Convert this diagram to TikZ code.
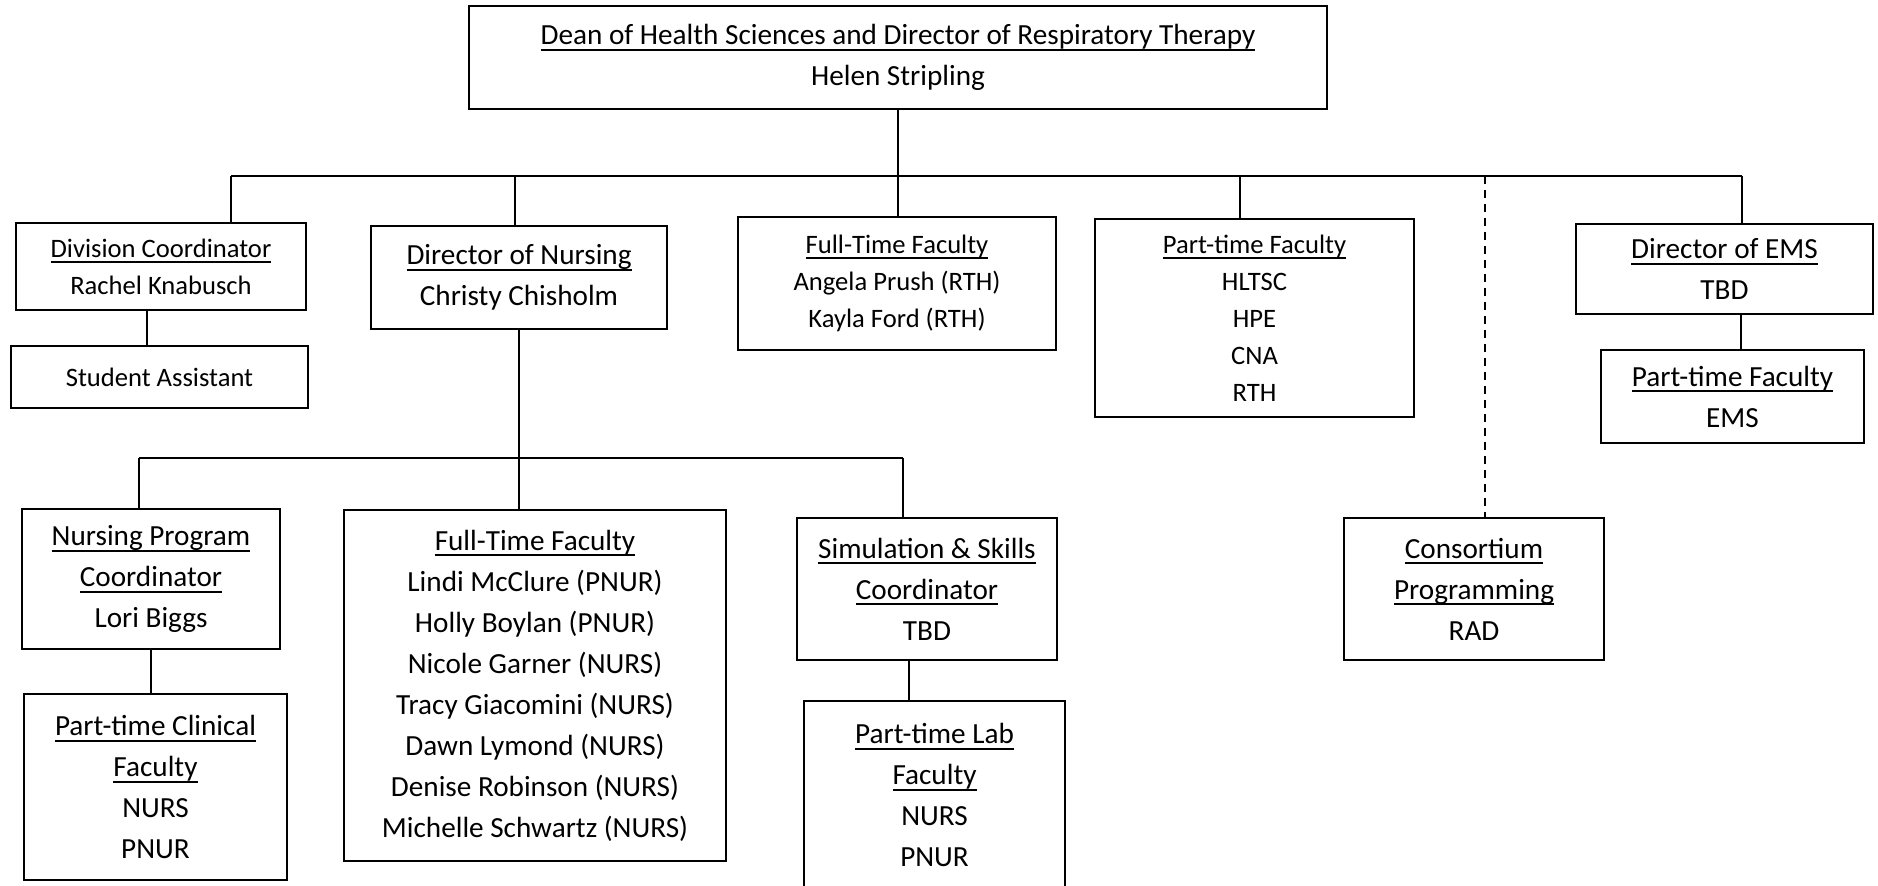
\documentclass[tikz,border=0pt]{standalone}
\usepackage{fontspec}
\setmainfont{Carlito}
\newcommand{\ulin}[1]{\setbox0\hbox{#1}\rlap{\rule[-0.21em]{\wd0}{0.065em}}\box0}
\begin{document}
\begin{tikzpicture}[x=0.5pt, y=-0.5pt,
        box/.style={draw, line width=1.2pt, inner sep=0pt, align=center, font=\fontsize{14.6}{20.5}\selectfont},
        smallbox/.style={box, font=\fontsize{13.3}{18.5}\selectfont},
        link/.style={line width=1pt}]
        \useasboundingbox (0,0) rectangle (1878,886);

        % Dean
        \node[box, minimum width=429pt, minimum height=51.5pt] (dean) at (898,57.5)
            {\ulin{Dean of Health Sciences and Director of Respiratory Therapy}\\Helen Stripling};

        % First row
        \node[smallbox, minimum width=145pt, minimum height=43.5pt] (divco) at (161,266.5)
            {\ulin{Division Coordinator}\\Rachel Knabusch};
        \node[smallbox, minimum width=148.5pt, minimum height=31pt] (stud) at (159.5,377)
            {Student Assistant};
        \node[box, minimum width=148pt, minimum height=51.5pt] (dirnurs) at (519,277.5)
            {\ulin{Director of Nursing}\\Christy Chisholm};
        \node[smallbox, minimum width=159pt, minimum height=66.5pt] (ftfac) at (897,283.5)
            {\ulin{Full-Time Faculty}\\Angela Prush (RTH)\\Kayla Ford (RTH)};
        \node[smallbox, minimum width=159.5pt, minimum height=99pt] (ptfac) at (1254.5,318)
            {\ulin{Part-time Faculty}\\HLTSC\\HPE\\CNA\\RTH};
        \node[box, minimum width=148.5pt, minimum height=45pt] (diems) at (1724.5,269)
            {\ulin{Director of EMS}\\TBD};
        \node[box, minimum width=131.5pt, minimum height=46.5pt] (ptems) at (1732.5,396.5)
            {\ulin{Part-time Faculty}\\EMS};

        % Nursing row
        \node[box, minimum width=129pt, minimum height=70pt] (nprog) at (151,579)
            {\ulin{Nursing Program}\\\ulin{Coordinator}\\Lori Biggs};
        \node[box, minimum width=131.5pt, minimum height=93pt] (ptclin) at (155.5,787)
            {\ulin{Part-time Clinical}\\\ulin{Faculty}\\NURS\\PNUR};
        \node[box, minimum width=191pt, minimum height=175.5pt] (ftnurs) at (535,685.5)
            {\ulin{Full-Time Faculty}\\Lindi McClure (PNUR)\\Holly Boylan (PNUR)\\Nicole Garner (NURS)\\Tracy Giacomini (NURS)\\Dawn Lymond (NURS)\\Denise Robinson (NURS)\\Michelle Schwartz (NURS)};
        \node[box, minimum width=130pt, minimum height=71pt] (simco) at (927,589)
            {\ulin{Simulation \& Skills}\\\ulin{Coordinator}\\TBD};
        \node[box, minimum width=130.5pt, minimum height=94pt] (ptlab) at (934.5,795)
            {\ulin{Part-time Lab}\\\ulin{Faculty}\\NURS\\PNUR};
        \node[box, minimum width=130pt, minimum height=71pt] (consort) at (1474,589)
            {\ulin{Consortium}\\\ulin{Programming}\\RAD};

        % Top bus
        \coordinate (busL) at (231,176);
        \coordinate (busR) at (1742,176);
        \coordinate (nurdrop) at (515,176);
        \coordinate (ptdrop) at (1240,176);
        \coordinate (condrop) at (1485,176);
        \draw[link] (dean.south) -- (dean.south |- ftfac.north);
        \draw[link] (busL) -- (busR);
        \draw[link] (busL) -- (busL |- divco.north);
        \draw[link] (nurdrop) -- (nurdrop |- dirnurs.north);
        \draw[link] (ptdrop) -- (ptdrop |- ptfac.north);
        \draw[link] (busR) -- (busR |- diems.north);
        \draw[link, dash pattern=on 4pt off 3pt] (condrop) -- (condrop |- consort.north);
        \draw[link] ([xshift=-7pt]divco.south) -- ([xshift=-7pt]divco.south |- stud.north);
        \draw[link] ([xshift=8pt]diems.south) -- ([xshift=8pt]diems.south |- ptems.north);

        % Nursing bus
        \coordinate (nbusL) at (139,458);
        \coordinate (nbusR) at (903,458);
        \draw[link] (dirnurs.south) -- (dirnurs.south |- ftnurs.north);
        \draw[link] (nbusL) -- (nbusR);
        \draw[link] (nbusL) -- (nbusL |- nprog.north);
        \draw[link] (nbusR) -- (nbusR |- simco.north);
        \draw[link] (nprog.south) -- (nprog.south |- ptclin.north);
        \draw[link] ([xshift=-9pt]simco.south) -- ([xshift=-9pt]simco.south |- ptlab.north);
    \end{tikzpicture}
\end{document}
